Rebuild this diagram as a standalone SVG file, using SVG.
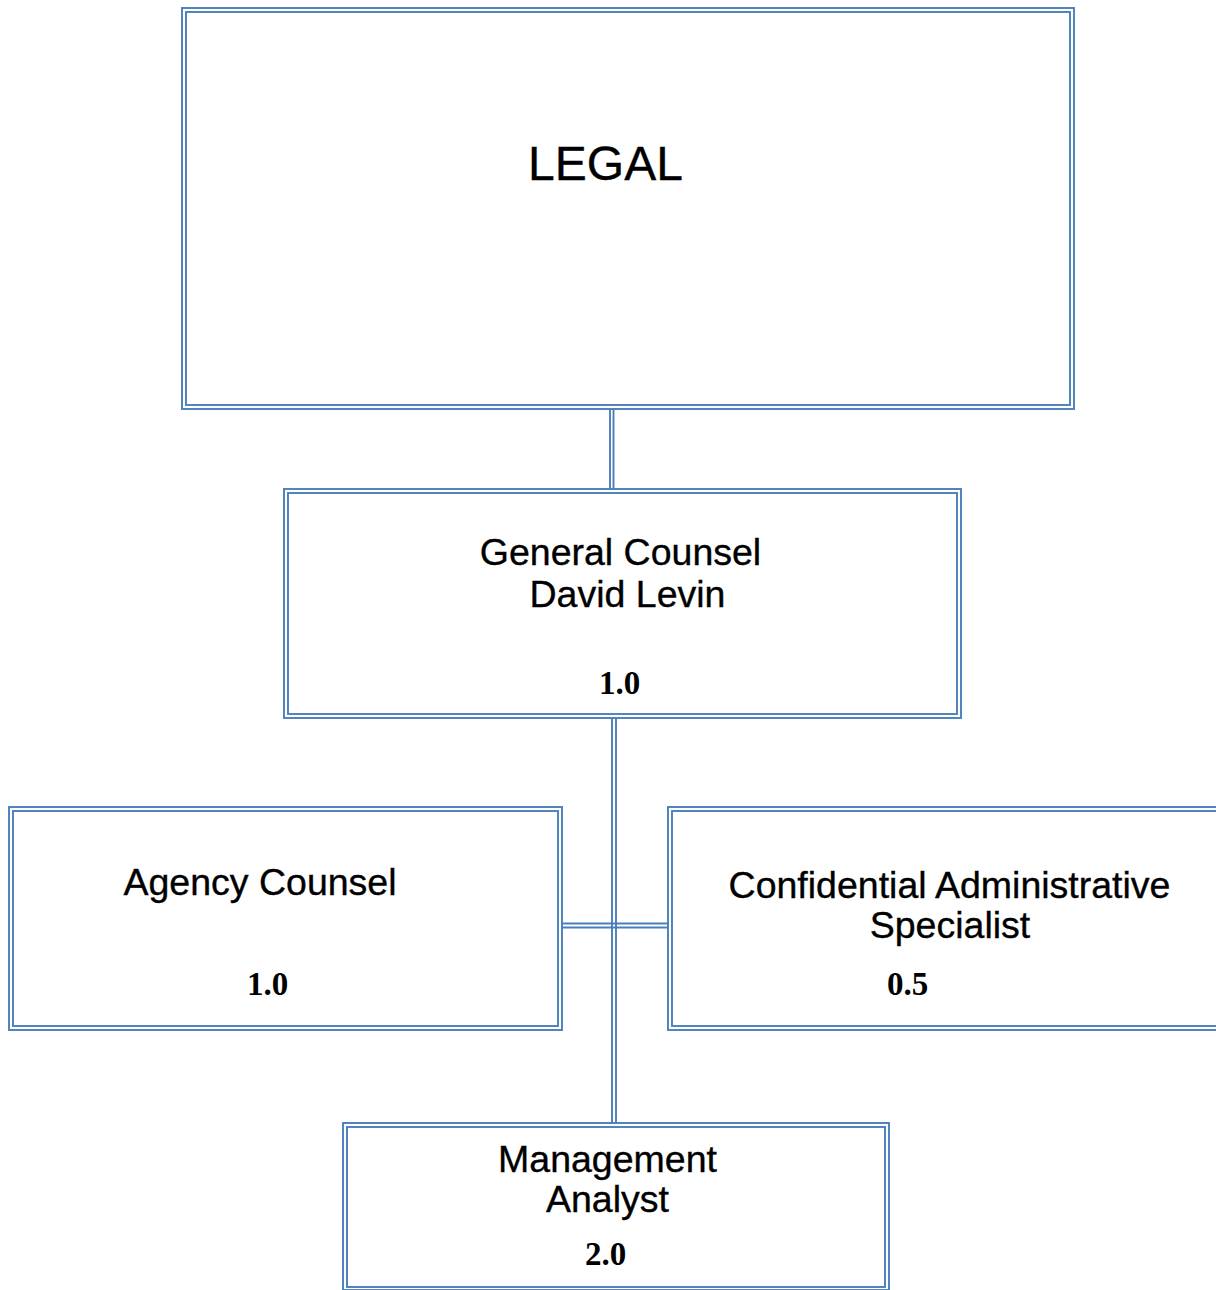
<svg xmlns="http://www.w3.org/2000/svg" width="1216" height="1290" viewBox="0 0 1216 1290">
<style>
.b{fill:none;stroke:#4a7ebb;stroke-width:1.9}
.s{font-family:"Liberation Sans",Arial,sans-serif;fill:#000;text-anchor:middle;font-size:37.5px;stroke:#000;stroke-width:0.35}
.n{font-family:"Liberation Serif","Times New Roman",serif;font-weight:bold;fill:#000;text-anchor:middle;font-size:33px}
</style>
<rect width="1216" height="1290" fill="#fff"/>
<g id="connectors">
<line class="b" x1="610" y1="409" x2="610" y2="489"/>
<line class="b" x1="613.5" y1="409" x2="613.5" y2="489"/>
<line class="b" x1="612" y1="718" x2="612" y2="1123"/>
<line class="b" x1="616" y1="718" x2="616" y2="1123"/>
<line class="b" x1="561" y1="923.5" x2="668" y2="923.5"/>
<line class="b" x1="561" y1="927.5" x2="668" y2="927.5"/>
</g>
<g id="legal">
<rect class="b" x="182" y="8" width="892" height="401"/>
<rect class="b" x="186" y="12" width="884" height="393"/>
<text class="s" x="605.5" y="180" style="font-size:48px">LEGAL</text>
</g>
<g id="general-counsel">
<rect class="b" x="284" y="489" width="677" height="229"/>
<rect class="b" x="288" y="493" width="669" height="221"/>
<text class="s" x="620.5" y="565">General Counsel</text>
<text class="s" x="627.5" y="607">David Levin</text>
<text class="n" x="619.5" y="694">1.0</text>
</g>
<g id="agency-counsel">
<rect class="b" x="9" y="807" width="553" height="223"/>
<rect class="b" x="13" y="811" width="545" height="215"/>
<text class="s" x="260" y="895">Agency Counsel</text>
<text class="n" x="267.5" y="995">1.0</text>
</g>
<g id="confidential">
<rect class="b" x="668" y="807" width="560" height="223"/>
<rect class="b" x="672" y="811" width="552" height="215"/>
<text class="s" x="949.5" y="898">Confidential Administrative</text>
<text class="s" x="950" y="938">Specialist</text>
<text class="n" x="907.5" y="995">0.5</text>
</g>
<g id="management-analyst">
<rect class="b" x="343" y="1123" width="546" height="167"/>
<rect class="b" x="347" y="1127" width="538" height="160"/>
<text class="s" x="607.5" y="1172">Management</text>
<text class="s" x="607.5" y="1212">Analyst</text>
<text class="n" x="605.5" y="1265">2.0</text>
</g>
</svg>
